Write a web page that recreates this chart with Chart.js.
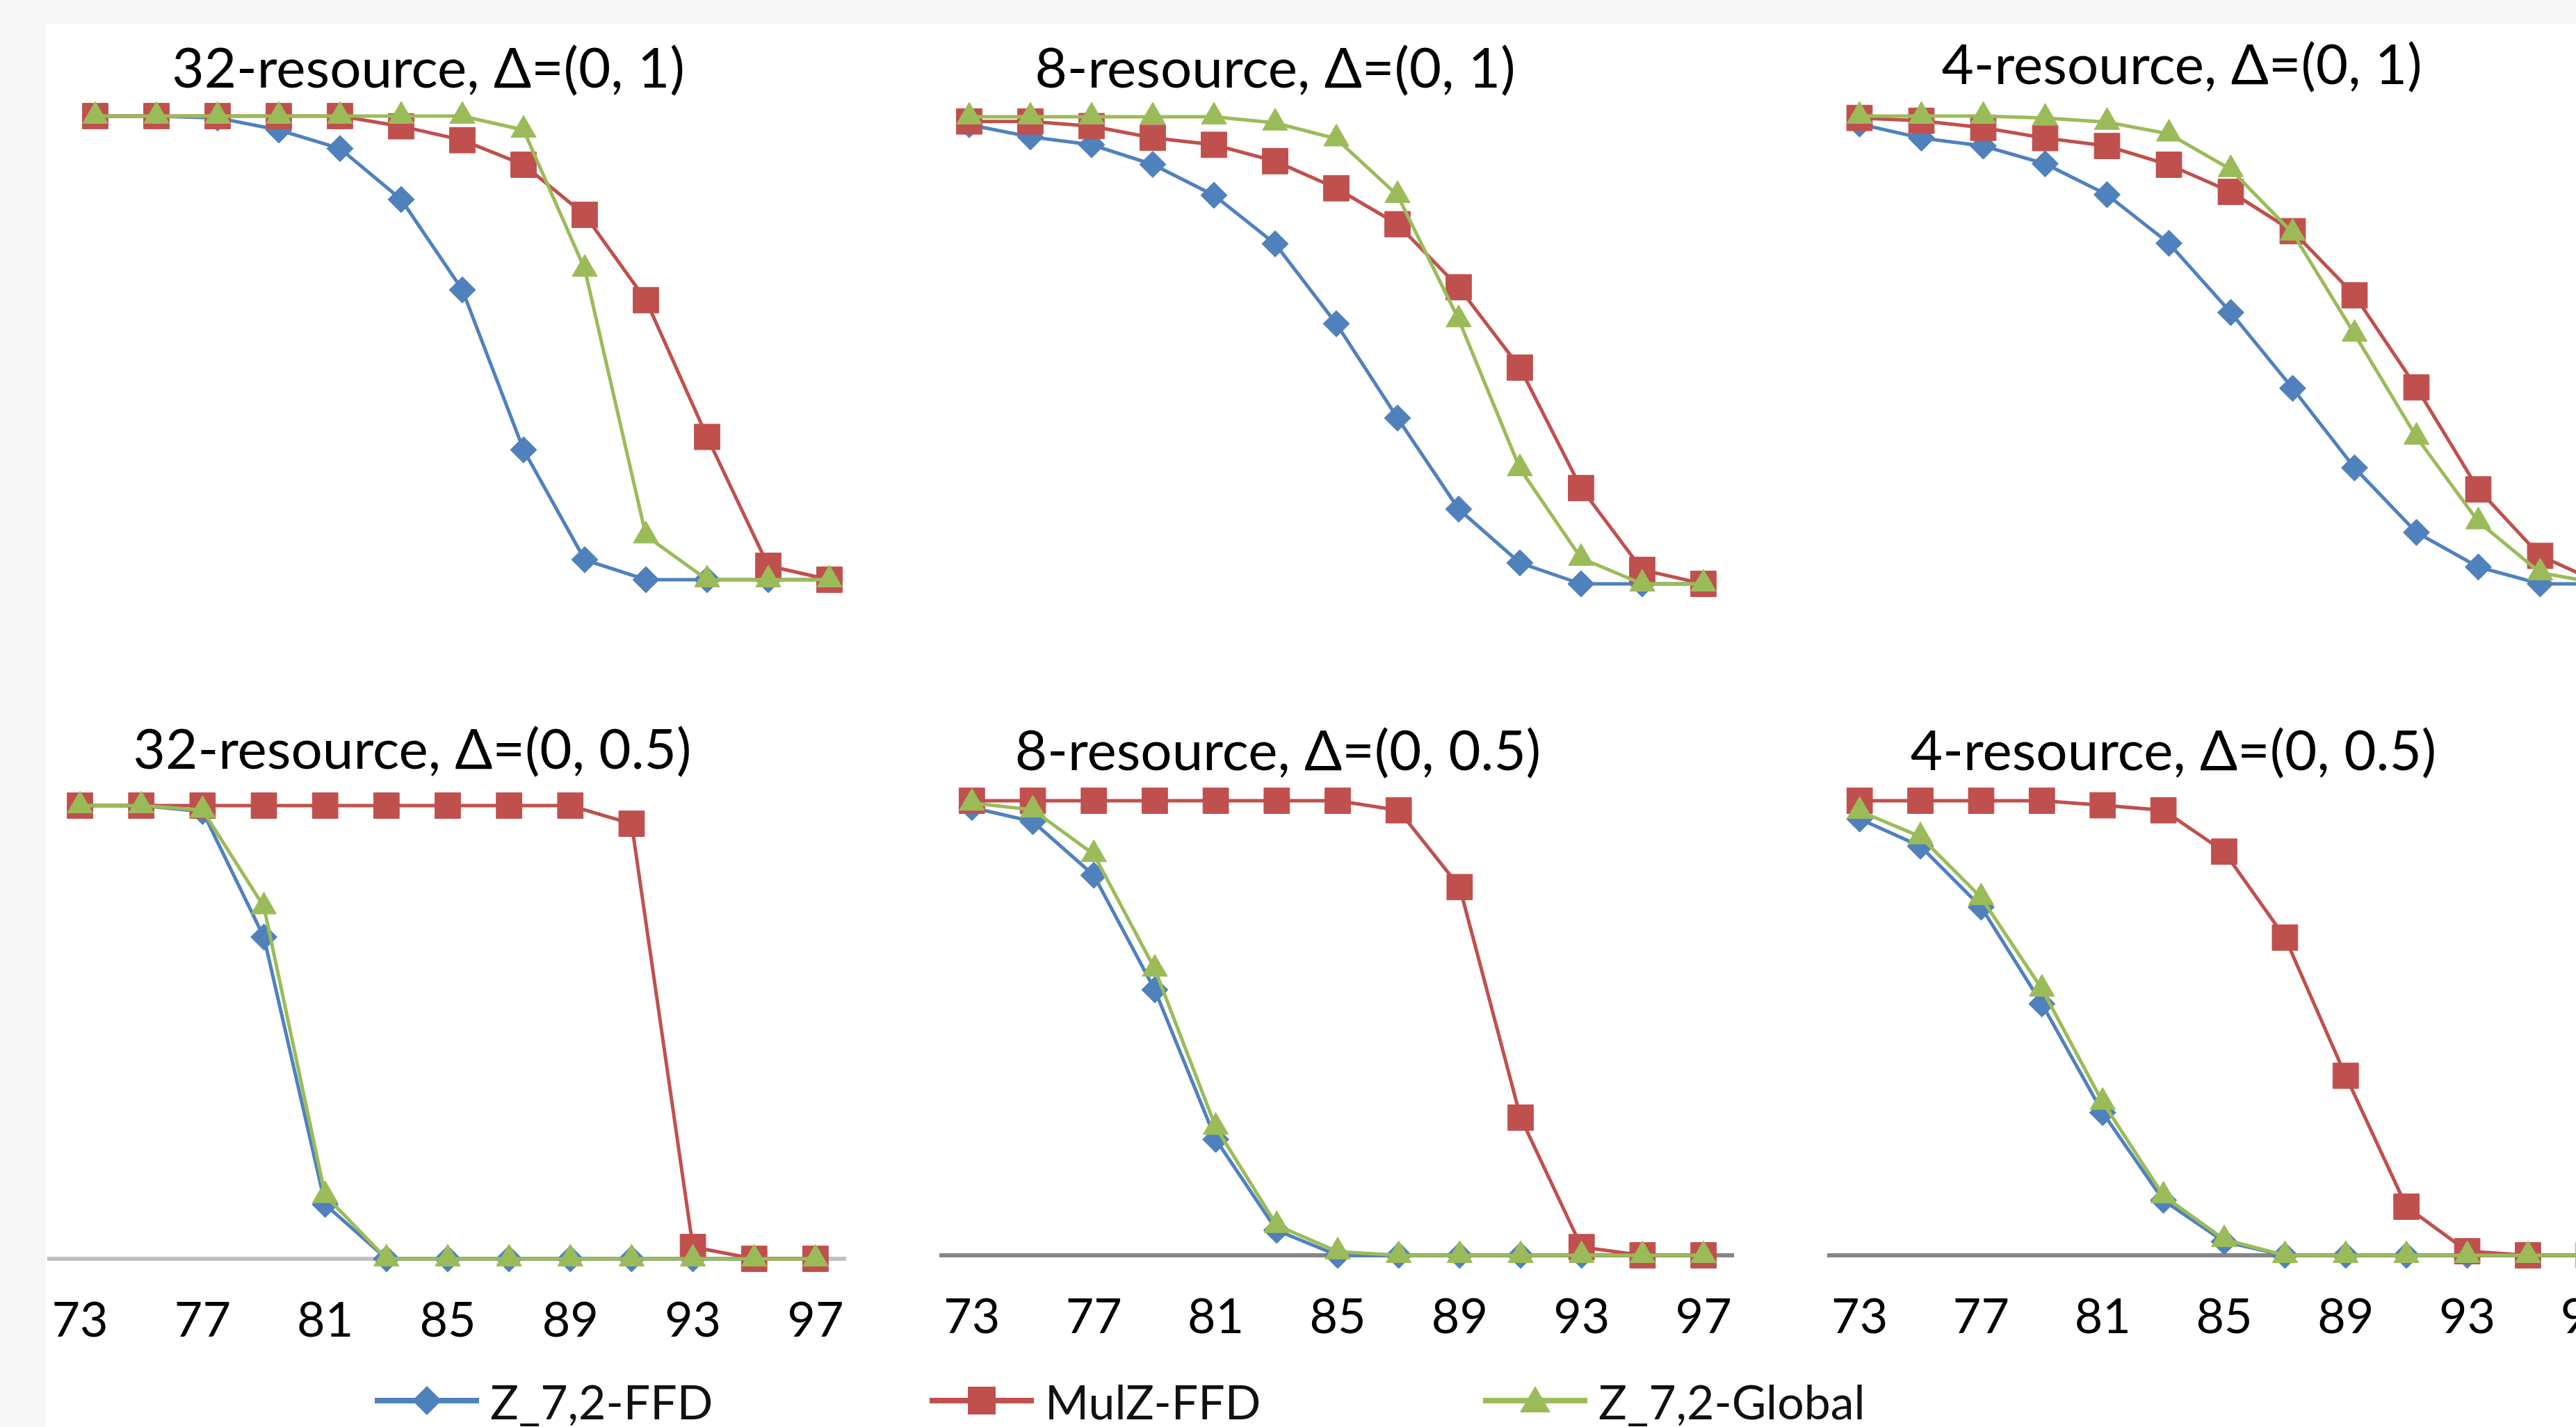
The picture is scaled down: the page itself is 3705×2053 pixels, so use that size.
<!doctype html>
<html>
<head>
<meta charset="utf-8">
<title>Acceptance ratio, Z_7,2 vs MulZ</title>
<script src="https://cdn.jsdelivr.net/npm/chart.js"></script>
<style>
  html, body { margin: 0; padding: 0; background: #fff; overflow: hidden; }
  #page { position: relative; width: 3705px; height: 2053px; overflow: hidden; background: #fff; }
  .edge-top { position: absolute; left: 0; top: 0; width: 3705px; height: 34px; background: #f6f6f6; }
  .edge-left { position: absolute; left: 0; top: 0; width: 66px; height: 2053px; background: #f6f6f6; }
  canvas { position: absolute; }
  .legend-item { position: absolute; top: 1975px; height: 80px; display: flex; align-items: center; }
  .legend-item span { font-family: Lato, "Noto Sans", sans-serif; font-size: 68px; color: #111; margin-left: 16px; white-space: nowrap; }
</style>
</head>
<body>
<div id="page">
  <div class="edge-top"></div>
  <div class="edge-left"></div>
</div>
<script>
  // x categories (utilisation, %) and the ones that get a label
  const xLabels = ["73", "75", "77", "79", "81", "83", "85", "87", "89", "91", "93", "95", "97"];
  const tickLabels = ["73", "77", "81", "85", "89", "93", "97"];

  const seriesNames = ["Z_7,2-FFD", "MulZ-FFD", "Z_7,2-Global"];
  const seriesColors = ["#4F81BD", "#C0504D", "#9BBB59"];

  const panelTitles = [
    "32-resource, Δ=(0, 1)",
    "8-resource, Δ=(0, 1)",
    "4-resource, Δ=(0, 1)",
    "32-resource, Δ=(0, 0.5)",
    "8-resource, Δ=(0, 0.5)",
    "4-resource, Δ=(0, 0.5)",
  ];

  // Δ=(0, 1)
  const ffd32a = [1, 1, 0.996, 0.97, 0.93, 0.82, 0.625, 0.28, 0.043, 0, 0, 0, 0];
  const mulz32a = [1, 1, 1, 1, 1, 0.978, 0.948, 0.895, 0.787, 0.603, 0.308, 0.03, 0];
  const glob32a = [1, 1, 1, 1, 1, 1, 1, 0.97, 0.67, 0.095, 0, 0, 0];

  const ffd8a = [0.983, 0.957, 0.94, 0.898, 0.832, 0.728, 0.557, 0.355, 0.16, 0.045, 0, 0, 0];
  const mulz8a = [0.99, 0.99, 0.98, 0.955, 0.94, 0.905, 0.847, 0.77, 0.635, 0.463, 0.205, 0.03, 0];
  const glob8a = [1, 1, 1, 1, 1, 0.987, 0.953, 0.832, 0.566, 0.247, 0.055, 0, 0];

  const ffd4a = [0.983, 0.953, 0.936, 0.898, 0.832, 0.728, 0.58, 0.418, 0.248, 0.11, 0.036, 0, 0];
  const mulz4a = [0.996, 0.99, 0.975, 0.953, 0.936, 0.896, 0.838, 0.754, 0.617, 0.42, 0.202, 0.06, 0];
  const glob4a = [1, 1, 1, 0.996, 0.987, 0.962, 0.886, 0.75, 0.534, 0.314, 0.133, 0.024, 0];

  // Δ=(0, 0.5)
  const ffd32b = [1, 1, 0.987, 0.71, 0.12, 0, 0, 0, 0, 0, 0, 0, 0];
  const mulz32b = [1, 1, 1, 1, 1, 1, 1, 1, 1, 0.96, 0.026, 0, 0];
  const glob32b = [1, 1, 0.99, 0.777, 0.14, 0, 0, 0, 0, 0, 0, 0, 0];

  const ffd8b = [0.985, 0.954, 0.836, 0.584, 0.255, 0.055, 0, 0, 0, 0, 0, 0, 0];
  const mulz8b = [1, 1, 1, 1, 1, 1, 1, 0.979, 0.81, 0.303, 0.018, 0, 0];
  const glob8b = [0.995, 0.98, 0.882, 0.63, 0.282, 0.066, 0.008, 0, 0, 0, 0, 0, 0];

  const ffd4b = [0.96, 0.9, 0.766, 0.553, 0.314, 0.121, 0.03, 0, 0, 0, 0, 0, 0];
  const mulz4b = [1, 1, 1, 1, 0.99, 0.979, 0.888, 0.699, 0.395, 0.107, 0.009, 0, 0];
  const glob4b = [0.977, 0.921, 0.787, 0.586, 0.337, 0.131, 0.035, 0, 0, 0, 0, 0, 0];

  // where each panel sits on the page (px)
  const boxes = [
    { left: -5, width: 1242, plotLeft: 98, top: 0, plotTop: 167, plotBottom: 834, titleY: 100 },
    { left: 1174, width: 1320, plotLeft: 176, top: 0, plotTop: 168, plotBottom: 840, titleY: 100 },
    { left: 2489, width: 1298, plotLeft: 141, top: 0, plotTop: 167, plotBottom: 840, titleY: 95 },
    { left: -31, width: 1248, plotLeft: 102, top: 1000, plotTop: 1159, plotBottom: 1811, titleY: 1080, axis: "#c0c0c0" },
    { left: 1182, width: 1312, plotLeft: 172, top: 1000, plotTop: 1152, plotBottom: 1806, titleY: 1082, axis: "#868686" },
    { left: 2485, width: 1282, plotLeft: 146, top: 1000, plotTop: 1152, plotBottom: 1806, titleY: 1082, axis: "#868686" },
  ];

  const FONT = "Lato, 'Noto Sans', sans-serif";
  const TITLE_SIZE = 80;
  const TICK_SIZE = 70;
  const TICK_LINE = 178; // tall line box puts the labels ~89px under the axis, no side padding

  function makePanel(box, title, ffd, mulz, glob) {
    const titleLine = TITLE_SIZE * 1.2;
    const padTop = box.titleY - box.top - titleLine / 2;
    const padBottom = box.plotTop - box.top - padTop - titleLine;
    const height = box.axis
      ? box.plotBottom - box.top + TICK_LINE
      : box.plotBottom - box.top + 40;

    const canvas = document.createElement("canvas");
    canvas.width = box.width;
    canvas.height = Math.round(height);
    canvas.style.left = box.left + "px";
    canvas.style.top = box.top + "px";
    document.getElementById("page").appendChild(canvas);

    const line = (i, data, style, radius, order) => ({
      label: seriesNames[i],
      data: data,
      borderColor: seriesColors[i],
      backgroundColor: seriesColors[i],
      pointBackgroundColor: seriesColors[i],
      pointBorderColor: seriesColors[i],
      borderWidth: 5,
      pointBorderWidth: 1,
      pointStyle: style,
      pointRadius: radius,
      tension: 0,
      clip: false,
      order: order,
    });

    new Chart(canvas.getContext("2d"), {
      type: "line",
      data: {
        labels: xLabels,
        datasets: [
          line(0, ffd, "rectRot", 19, 2),
          line(1, mulz, "rect", 26, 1),
          line(2, glob, "triangle", 21, 0),
        ],
      },
      options: {
        responsive: false,
        animation: false,
        devicePixelRatio: 1,
        layout: {
          autoPadding: false,
          padding: { top: 0, left: 0, right: 0, bottom: box.axis ? 0 : 40 },
        },
        plugins: {
          legend: { display: false },
          tooltip: { enabled: false },
          title: {
            display: true,
            text: title,
            color: "#000",
            font: { family: FONT, size: TITLE_SIZE, weight: "normal" },
            padding: { top: padTop, bottom: padBottom },
          },
        },
        scales: {
          x: {
            display: !!box.axis,
            offset: true,
            grid: { display: false, drawTicks: false },
            border: { display: true, color: box.axis || "#868686", width: 6 },
            ticks: {
              autoSkip: false,
              maxRotation: 0,
              minRotation: 0,
              padding: 0,
              color: "#000",
              font: { family: FONT, size: TICK_SIZE, lineHeight: TICK_LINE / TICK_SIZE },
              callback: function (value) {
                const lab = this.getLabelForValue(value);
                return tickLabels.includes(lab) ? lab : "";
              },
            },
          },
          y: {
            min: 0,
            max: 1,
            grid: { display: false, drawTicks: false },
            border: { display: false },
            ticks: { display: false },
            afterFit: (scale) => {
              scale.width = box.plotLeft;
            },
          },
        },
      },
    });
  }

  makePanel(boxes[0], panelTitles[0], ffd32a, mulz32a, glob32a);
  makePanel(boxes[1], panelTitles[1], ffd8a, mulz8a, glob8a);
  makePanel(boxes[2], panelTitles[2], ffd4a, mulz4a, glob4a);
  makePanel(boxes[3], panelTitles[3], ffd32b, mulz32b, glob32b);
  makePanel(boxes[4], panelTitles[4], ffd8b, mulz8b, glob8b);
  makePanel(boxes[5], panelTitles[5], ffd4b, mulz4b, glob4b);

  // shared legend under the bottom row
  const legendLeft = [539, 1337, 2133];
  const markers = [
    '<polygon points="75,9 96,30 75,51 54,30" />',
    '<rect x="55" y="10" width="40" height="40" />',
    '<polygon points="75,9 97,47 53,47" />',
  ];
  seriesNames.forEach((name, i) => {
    const item = document.createElement("div");
    item.className = "legend-item";
    item.style.left = legendLeft[i] + "px";
    item.innerHTML =
      '<svg width="150" height="60" viewBox="0 0 150 60">' +
      '<line x1="0" y1="30" x2="150" y2="30" stroke="' + seriesColors[i] + '" stroke-width="8" />' +
      '<g fill="' + seriesColors[i] + '">' + markers[i] + "</g></svg>" +
      "<span></span>";
    item.querySelector("span").textContent = name;
    document.getElementById("page").appendChild(item);
  });
</script>
</body>
</html>
